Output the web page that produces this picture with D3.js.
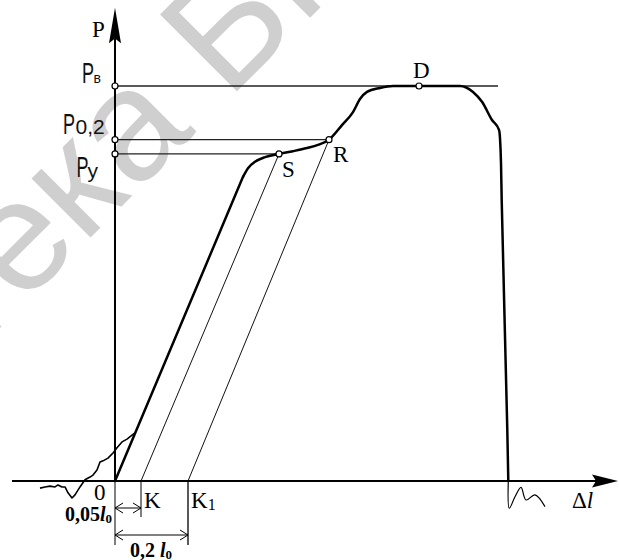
<!DOCTYPE html>
<html>
<head>
<meta charset="utf-8">
<script src="https://cdn.jsdelivr.net/npm/d3@7"></script>
<style>
  body { margin: 0; background: #fff; }
  svg { display: block; }
</style>
</head>
<body>
<div id="chart"></div>
<script>
// Diagram data: Δl in arbitrary length units, P in % of Pв
// straight elastic part
const elasticLine = [[0, 0], [12.8, 77.0]];
// yielding, hardening, necking and fracture
const plasticCurve = [
  [12.8, 77.0], [13.3, 79.2], [14.0, 80.8], [15.0, 82.0], [16.4, 82.8],
  [17.8, 83.5], [19.2, 84.3], [20.3, 85.1], [21.4, 86.4], [22.7, 90.1], [23.8, 93.4],
  [24.5, 96.7], [25.2, 98.5], [26.5, 99.5], [27.8, 100], [30.4, 100], [34.5, 100],
  [35.8, 98.5], [36.7, 96.0], [37.7, 91.4], [38.4, 88.9], [38.5, 86.8], [38.6, 80.5],
  [38.67, 71.1], [39.23, 12.9], [39.33, 0]
];
// noise before the origin
const toeCurve = [
  [-7.5, -1.8], [-7.0, -1.5], [-6.5, -1.3], [-6.0, -1.5], [-5.7, -1.0], [-5.3, -1.5],
  [-5.0, -1.5], [-4.7, -3.0], [-4.3, -4.3], [-4.0, -3.5], [-3.5, -1.5], [-3.0, 0.3],
  [-2.5, 1.0], [-2.2, 1.5], [-1.8, 2.8], [-1.5, 4.8], [-1.2, 5.1], [-0.7, 5.8],
  [-0.2, 7.1], [0.2, 8.4], [0.7, 9.9], [1.2, 10.6], [1.7, 11.6], [2.0, 12.2]
];
// oscillation after fracture
const tailCurve = [
  [39.33, 0], [39.43, -6.9], [40.0, -4.0], [40.6, -1.6], [41.1, -4.8], [42.0, -3.5], [43.0, -6.5]
];
const keyPoints = [
  {name: "S", dl: 16.4, p: 82.8},
  {name: "R", dl: 21.4, p: 86.4},
  {name: "D", dl: 30.4, p: 100}
];
const levelNames = ["в", "0,2", "у"];
const levelValues = [100, 86.4, 82.8];
const levelEnds = [38.3, 21.4, 16.4];
const offsetNames = ["K", "K"];
const offsetSubs = ["", "1"];
const offsetValues = [2.6, 7.3];

const width = 619, height = 560;
const svg = d3.select("#chart").append("svg")
  .attr("width", width)
  .attr("height", height);

const x = d3.scaleLinear().domain([0, 50]).range([115, 615]);
const y = d3.scaleLinear().domain([0, 100]).range([481, 86]);
const line = d3.line().x(d => x(d[0])).y(d => y(d[1]));

const serif = "'Liberation Serif', 'Times New Roman', serif";
const sans = "'Liberation Sans', Arial, sans-serif";

// Watermark
const wm = svg.append("g")
  .attr("transform", "rotate(-45)")
  .attr("fill", "#cfcfcf")
  .style("font-family", sans)
  .style("font-size", "158px");
wm.append("text").attr("x", 46).attr("y", 232).attr("text-anchor", "end").text("Библиотека");
wm.append("text").attr("x", 90).attr("y", 232).text("БГУИР");

// Level lines
levelValues.forEach((v, i) => {
  svg.append("line")
    .attr("x1", x(0)).attr("x2", x(levelEnds[i]))
    .attr("y1", y(v)).attr("y2", y(v))
    .attr("stroke", "#222").attr("stroke-width", 1.3);
});

// Unloading lines (parallel to elastic part)
offsetValues.forEach((k, i) => {
  const from = keyPoints[i];
  svg.append("line")
    .attr("x1", x(from.dl)).attr("y1", y(from.p))
    .attr("x2", x(k)).attr("y2", y(0))
    .attr("stroke", "#111").attr("stroke-width", 1);
});

// Axes
svg.append("line")
  .attr("x1", x(-10.3)).attr("x2", x(49.5))
  .attr("y1", y(0)).attr("y2", y(0))
  .attr("stroke", "#000").attr("stroke-width", 2);
svg.append("path")
  .attr("d", `M${x(50.3)},${y(0)} L${x(47.7)},${y(0) - 6.5} L${x(48.1)},${y(0)} L${x(47.7)},${y(0) + 6.5} Z`)
  .attr("fill", "#000");
svg.append("line")
  .attr("x1", x(0)).attr("x2", x(0))
  .attr("y1", y(0) + 1).attr("y2", y(112))
  .attr("stroke", "#000").attr("stroke-width", 2);
svg.append("path")
  .attr("d", `M${x(0)},${y(119.8)} L${x(0) - 6},${y(110.8)} L${x(0)},${y(112)} L${x(0) + 6},${y(110.8)} Z`)
  .attr("fill", "#000");

// Curves
svg.append("path").datum(toeCurve)
  .attr("d", line).attr("fill", "none")
  .attr("stroke", "#000").attr("stroke-width", 1.6).attr("stroke-linejoin", "round");
svg.append("path").datum(elasticLine)
  .attr("d", line).attr("fill", "none")
  .attr("stroke", "#000").attr("stroke-width", 2.5).attr("stroke-linecap", "round");
svg.append("path").datum(plasticCurve)
  .attr("d", d3.line().x(d => x(d[0])).y(d => y(d[1])).curve(d3.curveMonotoneX))
  .attr("fill", "none")
  .attr("stroke", "#000").attr("stroke-width", 2.5).attr("stroke-linejoin", "round");
svg.append("path").datum(tailCurve)
  .attr("d", d3.line().x(d => x(d[0])).y(d => y(d[1])).curve(d3.curveCatmullRom))
  .attr("fill", "none").attr("stroke", "#000").attr("stroke-width", 1.2);

// Dimension lines
const dimG = svg.append("g").attr("stroke", "#000").attr("stroke-width", 1).attr("fill", "none");
dimG.append("line").attr("x1", x(0)).attr("x2", x(0)).attr("y1", y(0)).attr("y2", y(0) + 64);
dimG.append("line").attr("x1", x(offsetValues[0])).attr("x2", x(offsetValues[0])).attr("y1", y(0)).attr("y2", y(0) + 36);
dimG.append("line").attr("x1", x(offsetValues[1])).attr("x2", x(offsetValues[1])).attr("y1", y(0)).attr("y2", y(0) + 64)
  .attr("stroke-width", 1.3);
function dimArrow(x1, x2, yy) {
  dimG.append("line").attr("x1", x1).attr("x2", x2).attr("y1", yy).attr("y2", yy);
  dimG.append("path").attr("d", `M${x1 + 8},${yy - 5} L${x1},${yy} L${x1 + 8},${yy + 5}`);
  dimG.append("path").attr("d", `M${x2 - 8},${yy - 5} L${x2},${yy} L${x2 - 8},${yy + 5}`);
}
dimArrow(x(0), x(offsetValues[0]), y(0) + 27);
dimArrow(x(0), x(offsetValues[1]), y(0) + 54);

// Marked points
const marks = keyPoints.map(d => [d.dl, d.p]).concat(levelValues.map(v => [0, v]));
svg.selectAll(".mark")
  .data(marks)
  .join("circle")
    .attr("class", "mark")
    .attr("cx", d => x(d[0]))
    .attr("cy", d => y(d[1]))
    .attr("r", 3)
    .attr("fill", "#fff")
    .attr("stroke", "#000")
    .attr("stroke-width", 1.2);

// Serif labels
const labelG = svg.append("g").style("font-family", serif).style("font-size", "23px").attr("fill", "#000");
labelG.append("text").attr("x", x(0) - 23).attr("y", 37).text("P");
const keyDx = [3, 4, -6], keyDy = [23, 22, -8];
keyPoints.forEach((d, i) => {
  labelG.append("text").attr("x", x(d.dl) + keyDx[i]).attr("y", y(d.p) + keyDy[i]).text(d.name);
});
offsetValues.forEach((k, i) => {
  const t = labelG.append("text").attr("x", x(k) + 3).attr("y", y(0) + 27).text(offsetNames[i]);
  if (offsetSubs[i]) t.append("tspan").attr("font-size", "16px").attr("dy", 2).text(offsetSubs[i]);
});
labelG.append("text").attr("x", x(0) - 21).attr("y", y(0) + 19).text("0");
const l1 = labelG.append("text").attr("x", x(0) - 3).attr("y", y(0) + 40)
  .attr("text-anchor", "end").attr("font-weight", "bold").attr("font-size", "20px");
l1.append("tspan").text("0,05");
l1.append("tspan").attr("font-style", "italic").text("l");
l1.append("tspan").attr("font-size", "13px").attr("dy", 2).text("0");
const l2 = labelG.append("text").attr("x", x(1.5)).attr("y", y(0) + 76)
  .attr("font-weight", "bold").attr("font-size", "20px");
l2.append("tspan").text("0,2 ");
l2.append("tspan").attr("font-style", "italic").text("l");
l2.append("tspan").attr("font-size", "13px").attr("dy", 2).text("0");
const dl = labelG.append("text").attr("x", x(45.7)).attr("y", y(0) + 27);
dl.append("tspan").text("Δ");
dl.append("tspan").attr("font-style", "italic").text("l");

// Load level labels (narrow sans)
const levelG = svg.append("g").style("font-family", sans).attr("fill", "#111");
const pX = [82, 63, 76.5], pDy = [-3, -6, 23];
const subX = [93.5, 75.5, 87.5], subSize = [14, 21, 21], subDy = [-3.5, -6, 24];
levelValues.forEach((v, i) => {
  levelG.append("text")
    .attr("x", pX[i]).attr("y", y(v) + pDy[i])
    .attr("font-size", "29px")
    .attr("textLength", 12).attr("lengthAdjust", "spacingAndGlyphs")
    .text("P");
  levelG.append("text")
    .attr("x", subX[i]).attr("y", y(v) + subDy[i])
    .attr("font-size", subSize[i] + "px")
    .text(levelNames[i]);
});
</script>
</body>
</html>
